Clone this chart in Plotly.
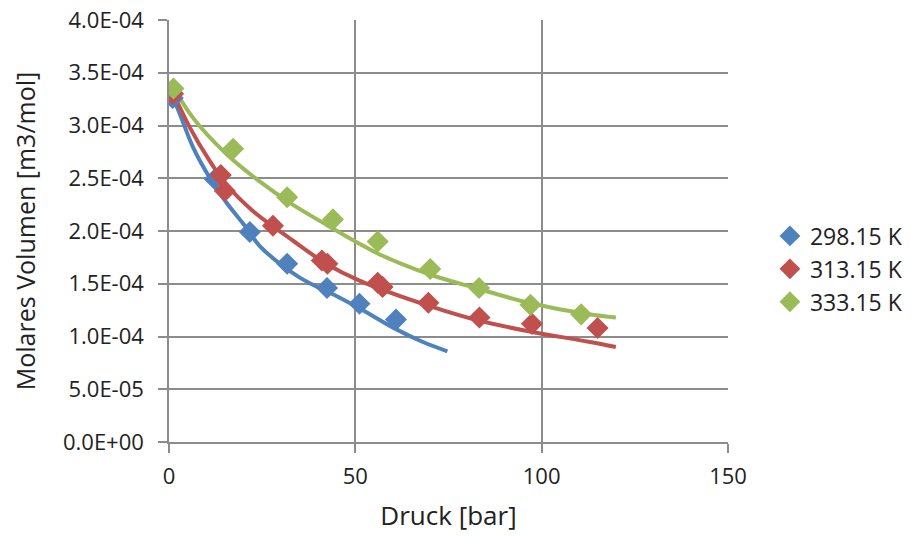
import plotly.graph_objects as go

# ---- data ----
series_names = ["298.15 K", "313.15 K", "333.15 K"]
colors = ["#4F81BD", "#C0504D", "#9BBB59"]

# measured points (markers)
p_298 = [1.0, 12.3, 21.7, 31.7, 42.4, 51.1, 60.9]
v_298 = [3.26e-4, 2.49e-4, 1.99e-4, 1.69e-4, 1.46e-4, 1.31e-4, 1.16e-4]

p_313 = [1.1, 13.9, 15.0, 27.9, 41.0, 42.5, 56.0, 57.3, 69.6, 83.3, 97.4, 115.0]
v_313 = [3.30e-4, 2.53e-4, 2.38e-4, 2.05e-4, 1.72e-4, 1.69e-4, 1.51e-4, 1.47e-4,
         1.32e-4, 1.18e-4, 1.12e-4, 1.08e-4]

p_333 = [1.2, 17.2, 31.7, 44.0, 56.0, 70.1, 83.2, 97.0, 110.6]
v_333 = [3.35e-4, 2.78e-4, 2.32e-4, 2.11e-4, 1.90e-4, 1.64e-4, 1.46e-4, 1.30e-4, 1.21e-4]

# model curves (lines)
lp_298 = [1.0, 2.9, 6.5, 11.0, 15.4, 20.8, 24.3, 35.0, 45.7, 52.0, 60.9, 68.0, 74.7]
lv_298 = [3.27e-4, 3.11e-4, 2.79e-4, 2.50e-4, 2.27e-4, 2.03e-4, 1.86e-4, 1.56e-4,
          1.37e-4, 1.25e-4, 1.07e-4, 0.95e-4, 0.86e-4]

lp_313 = [1.1, 5.6, 11.0, 15.4, 22.5, 33.2, 42.2, 51.1, 69.8, 83.2, 96.5, 112.6, 119.9]
lv_313 = [3.31e-4, 2.98e-4, 2.66e-4, 2.44e-4, 2.19e-4, 1.91e-4, 1.69e-4, 1.53e-4,
          1.29e-4, 1.15e-4, 1.05e-4, 0.95e-4, 0.90e-4]

lp_333 = [1.2, 6.5, 15.4, 24.3, 33.2, 42.2, 51.1, 56.4, 69.8, 83.2, 96.5, 112.6, 119.9]
lv_333 = [3.36e-4, 3.07e-4, 2.73e-4, 2.47e-4, 2.25e-4, 2.06e-4, 1.88e-4, 1.78e-4,
          1.59e-4, 1.45e-4, 1.32e-4, 1.21e-4, 1.18e-4]

y_tickvals = [0, 5e-5, 1e-4, 1.5e-4, 2e-4, 2.5e-4, 3e-4, 3.5e-4, 4e-4]
y_ticktext = ["0.0E+00", "5.0E-05", "1.0E-04", "1.5E-04", "2.0E-04",
              "2.5E-04", "3.0E-04", "3.5E-04", "4.0E-04"]
x_tickvals = [0, 50, 100, 150]

x_title = "Druck [bar]"
y_title = "Molares Volumen [m3/mol]"

FONT = "Open Sans"
fig = go.Figure()

lines = [(lp_298, lv_298), (lp_313, lv_313), (lp_333, lv_333)]
points = [(p_298, v_298), (p_313, v_313), (p_333, v_333)]

for (lx, ly), c in zip(lines, colors):
    fig.add_trace(go.Scatter(x=lx, y=ly, mode="lines", line=dict(color=c, width=4, shape="spline"),
                             showlegend=False, hoverinfo="skip"))
for (px, py), c, n in zip(points, colors, series_names):
    fig.add_trace(go.Scatter(x=px, y=py, mode="markers", name=n,
                             marker=dict(symbol="diamond", size=17, color=c)))

fig.update_layout(
    width=911, height=536,
    margin=dict(l=169, r=183, t=20, b=94, autoexpand=False),
    paper_bgcolor="white", plot_bgcolor="white",
    font=dict(family=FONT, color="#222222", size=22),
    legend=dict(x=1.075, xanchor="left", y=0.41, yanchor="middle",
                font=dict(size=23, family=FONT), itemsizing="trace", itemwidth=30,
                bgcolor="rgba(0,0,0,0)", tracegroupgap=0),
    xaxis=dict(range=[0, 150], tickvals=x_tickvals, showgrid=True, gridcolor="#8C8C8C",
               gridwidth=1.5, zeroline=False, showline=True, linecolor="#8C8C8C", linewidth=1.5,
               ticks="outside", ticklen=9, tickcolor="#8C8C8C", tickwidth=1.5,
               tickfont=dict(size=22, family=FONT), ticklabelstandoff=5,
               title=dict(text=x_title, font=dict(size=26, family=FONT), standoff=18)),
    yaxis=dict(range=[0, 4e-4], tickvals=y_tickvals, ticktext=y_ticktext, showgrid=True,
               gridcolor="#8C8C8C", gridwidth=1.5, zeroline=False, showline=True,
               linecolor="#8C8C8C", linewidth=1.5, mirror=False,
               ticks="outside", ticklen=9, tickcolor="#8C8C8C", tickwidth=1.5,
               tickfont=dict(size=22, family=FONT), ticklabelstandoff=10,
               title=dict(text=y_title, font=dict(size=25, family=FONT), standoff=20)),
)

fig.write_html("out.html")
